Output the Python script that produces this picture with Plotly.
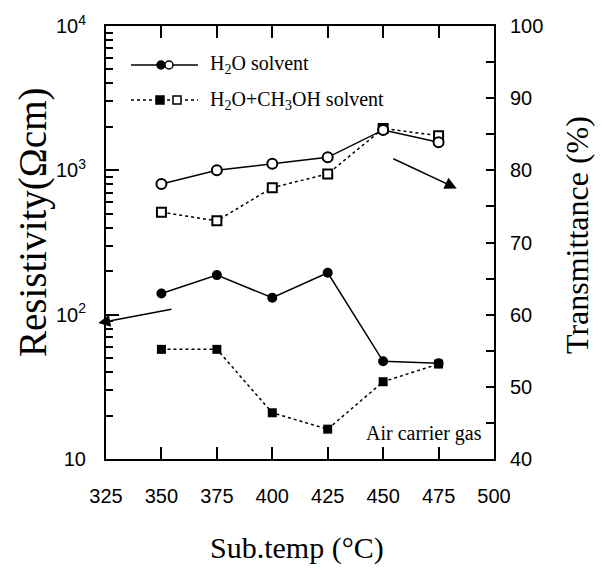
import plotly.graph_objects as go

# ---------------- data ----------------
temps = [350, 375, 400, 425, 450, 475]
res_h2o = [140, 188, 131, 195, 47.5, 46]          # resistivity, H2O solvent (Ωcm)
res_mix = [57.5, 57.5, 20.9, 16.1, 34.3, 45.5]    # resistivity, H2O+CH3OH solvent
trans_h2o = [78.1, 80.0, 80.9, 81.8, 85.6, 83.9]  # transmittance, H2O solvent (%)
trans_mix = [74.2, 73.0, 77.6, 79.5, 85.8, 84.8]  # transmittance, H2O+CH3OH solvent

x_ticks = [325, 350, 375, 400, 425, 450, 475, 500]
left_tickvals = [10, 100, 1000, 10000]
left_ticktext = ["10", "10<sup>2</sup>", "10<sup>3</sup>", "10<sup>4</sup>"]
left_minor = [k * 10 ** d for d in range(1, 4) for k in range(2, 10)]

SANS = "Liberation Sans"
SERIF = "Liberation Serif"

fig = go.Figure()

# resistivity (left log axis)
fig.add_trace(go.Scatter(x=temps, y=res_h2o, mode="lines+markers", yaxis="y",
                         line=dict(color="black", width=1.5),
                         marker=dict(symbol="circle", size=10, color="black"),
                         showlegend=False))
fig.add_trace(go.Scatter(x=temps, y=res_mix, mode="lines+markers", yaxis="y",
                         line=dict(color="black", width=1.5, dash="dot"),
                         marker=dict(symbol="square", size=9, color="black"),
                         showlegend=False))
# invisible trace carrying the minor-tick overlay axis
fig.add_trace(go.Scatter(x=temps, y=res_h2o, mode="markers", yaxis="y3",
                         marker=dict(opacity=0), hoverinfo="skip", showlegend=False))
# transmittance (right axis)
fig.add_trace(go.Scatter(x=temps, y=trans_mix, mode="lines+markers", yaxis="y2",
                         line=dict(color="black", width=1.5, dash="dot"),
                         marker=dict(symbol="square", size=9, color="white",
                                     line=dict(color="black", width=2)),
                         showlegend=False))
fig.add_trace(go.Scatter(x=temps, y=trans_h2o, mode="lines+markers", yaxis="y2",
                         line=dict(color="black", width=1.5),
                         marker=dict(symbol="circle", size=10, color="white",
                                     line=dict(color="black", width=2)),
                         showlegend=False))

# ---------------- legend (drawn) ----------------
def px2x(px):
    return (px - 106) / 388.0

def px2y(py):
    return (459 - py) / 433.0

shapes = []
annotations = []
rows = [
    (65, "solid", "circle", "H<sub>2</sub>O solvent", 161, 169),
    (100, "dot", "rect", "H<sub>2</sub>O+CH<sub>3</sub>OH solvent", 160, 177),
]
for py, dash, kind, label, fx, ox in rows:
    yy = px2y(py)
    shapes.append(dict(type="line", xref="paper", yref="paper",
                       x0=px2x(131), x1=px2x(198), y0=yy, y1=yy,
                       line=dict(color="black", width=1.5, dash=dash)))
    for cx, fill in ((fx, "black"), (ox, "white")):
        shapes.append(dict(type=kind, xref="paper", yref="paper",
                           xsizemode="pixel", ysizemode="pixel",
                           xanchor=px2x(cx), yanchor=yy,
                           x0=-4, x1=4, y0=-4, y1=4,
                           fillcolor=fill, line=dict(color="black", width=1.5)))
    annotations.append(dict(xref="paper", yref="paper", x=px2x(208), y=yy,
                            xanchor="left", yanchor="middle", showarrow=False,
                            text=label, font=dict(family=SERIF, size=20, color="black")))

annotations.append(dict(xref="paper", yref="paper", x=px2x(484), y=px2y(433),
                        xanchor="right", yanchor="middle", showarrow=False,
                        text="Air carrier gas",
                        font=dict(family=SERIF, size=20, color="black")))

# arrows
annotations.append(dict(xref="x", yref="y2", x=483.2, y=77.5,
                        axref="x", ayref="y2", ax=453.9, ay=81.7,
                        showarrow=True, arrowhead=2, arrowsize=1.6, arrowwidth=1.5,
                        arrowcolor="black", text=""))
annotations.append(dict(xref="x", yref="y", x=321.5, y=1.942,
                        axref="x", ayref="y", ax=355.2, ay=2.039,
                        showarrow=True, arrowhead=2, arrowsize=1.6, arrowwidth=1.5,
                        arrowcolor="black", text=""))

# axis titles
annotations.append(dict(xref="paper", yref="paper", x=px2x(33), y=px2y(223),
                        xanchor="center", yanchor="middle", textangle=-90, showarrow=False,
                        text="Resistivity(Ωcm)", font=dict(family=SERIF, size=39, color="black")))
annotations.append(dict(xref="paper", yref="paper", x=px2x(577), y=px2y(235),
                        xanchor="center", yanchor="middle", textangle=-90, showarrow=False,
                        text="Transmittance (%)", font=dict(family=SERIF, size=32, color="black")))
annotations.append(dict(xref="paper", yref="paper", x=px2x(297), y=px2y(548),
                        xanchor="center", yanchor="middle", showarrow=False,
                        text="Sub.temp (°C)", font=dict(family=SERIF, size=30, color="black")))

fig.update_layout(
    width=602, height=572,
    margin=dict(l=106, r=108, t=26, b=113),
    paper_bgcolor="white", plot_bgcolor="white",
    shapes=shapes, annotations=annotations,
    xaxis=dict(range=[325, 500], tickmode="array", tickvals=x_ticks,
               ticks="inside", ticklen=12, tickwidth=2, tickcolor="black",
               showline=True, linecolor="black", linewidth=2, mirror="ticks",
               showgrid=False, zeroline=False, ticklabelstandoff=18,
               tickfont=dict(family=SANS, size=20, color="black")),
    yaxis=dict(type="log", range=[1, 4], tickmode="array",
               tickvals=left_tickvals, ticktext=left_ticktext,
               ticks="inside", ticklen=13, tickwidth=2, tickcolor="black",
               showline=True, linecolor="black", linewidth=2, anchor="x",
               showgrid=False, zeroline=False, ticklabelstandoff=14,
               tickfont=dict(family=SANS, size=20, color="black")),
    yaxis3=dict(type="log", range=[1, 4], overlaying="y", side="left", anchor="x",
                tickmode="array", tickvals=left_minor, showticklabels=False,
                ticks="inside", ticklen=7, tickwidth=2, tickcolor="black",
                showline=False, showgrid=False, zeroline=False),
    yaxis2=dict(overlaying="y", side="right", range=[40, 100], tickmode="linear",
                tick0=40, dtick=10, ticks="inside", ticklen=8, tickwidth=2,
                tickcolor="black", anchor="x",
                minor=dict(dtick=5, ticks="inside", ticklen=8, tickwidth=2,
                           tickcolor="black", showgrid=False),
                showline=True, linecolor="black", linewidth=2,
                showgrid=False, zeroline=False, ticklabelstandoff=10,
                tickfont=dict(family=SANS, size=20, color="black")),
)

fig.write_html("out.html")
